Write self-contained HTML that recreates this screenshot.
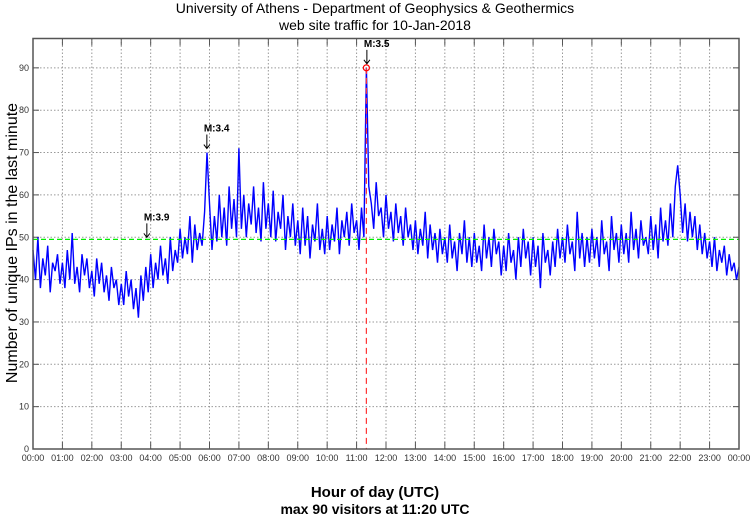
<!DOCTYPE html>
<html><head><meta charset="utf-8"><style>
html,body{margin:0;padding:0;background:#fff;}
svg{display:block;font-family:"Liberation Sans",sans-serif;}
</style></head><body>
<svg id="chart" width="750" height="515" viewBox="0 0 750 515">
<text x="375" y="13" text-anchor="middle" font-size="14">University of Athens - Department of Geophysics &amp; Geothermics</text>
<text x="375" y="30" text-anchor="middle" font-size="14">web site traffic for 10-Jan-2018</text>
<text x="375" y="497" text-anchor="middle" font-size="15" font-weight="bold">Hour of day (UTC)</text>
<text x="375" y="514" text-anchor="middle" font-size="14" font-weight="bold">max 90 visitors at 11:20 UTC</text>
<text transform="translate(17,243) rotate(-90)" text-anchor="middle" font-size="16">Number of unique IPs in the last minute</text>
<g id="grid"></g>
<g id="series"></g>
<g id="ann"></g>
<rect x="33" y="38.5" width="706" height="410.5" fill="none" stroke="#555" stroke-width="1.5"/>
</svg>
<script>
const hours=["00:00","01:00","02:00","03:00","04:00","05:00","06:00","07:00","08:00","09:00","10:00","11:00","12:00","13:00","14:00","15:00","16:00","17:00","18:00","19:00","20:00","21:00","22:00","23:00","00:00"];
const yTicks=[0,10,20,30,40,50,60,70,80,90];
const stepMinutes=5;
const visitors=[
47,40,50,38,45,41,48,37,44,42,46,39,
44,38,47,40,51,39,43,37,46,41,45,38,
42,36,45,39,44,37,41,35,43,38,40,34,
39,34,42,36,40,33,38,31,41,35,43,37,
46,38,44,40,48,41,45,39,50,42,47,44,
52,45,50,46,55,44,53,47,51,48,56,70,
58,47,55,49,60,50,57,48,62,52,59,50,
71,52,60,50,58,53,62,51,57,49,63,52,
58,50,61,49,56,52,60,47,55,50,58,48,
54,46,57,48,55,45,53,49,58,47,52,46,
55,47,53,49,57,46,54,50,56,48,58,51,
54,47,57,50,90,62,58,52,63,55,57,50,
60,52,56,49,58,51,55,48,57,50,53,47,
54,46,52,48,56,45,53,47,51,44,52,46,
50,44,53,45,49,42,51,46,54,44,50,43,
51,44,48,42,53,45,50,43,52,46,49,41,
48,42,51,44,47,40,50,43,52,45,49,41,
50,43,48,38,51,44,47,41,49,43,52,45,
50,44,53,46,49,42,56,45,51,43,50,44,
52,45,50,43,54,46,49,42,55,47,51,44,
53,46,51,44,56,47,52,45,54,48,50,46,
55,47,53,45,57,49,54,48,58,50,62,67,
60,51,58,49,56,50,55,47,53,46,51,45,
49,43,50,42,47,44,48,41,46,42,44,40,43];
const meanLevel=49.5;
const quakeLabels=["M:3.9","M:3.4","M:3.5"];
const quakeHours=[3.87,5.91,11.35];
const maxValue=90;const maxHour=11.333;

const NS="http://www.w3.org/2000/svg";
const X0=33,X1=739,Y0=449,YT=38.5,PXU=4.235;
const xs=h=>X0+(X1-X0)*h/24;
const ys=v=>Y0-v*PXU;
function mk(tag,attrs,parent){const e=document.createElementNS(NS,tag);for(const k in attrs)e.setAttribute(k,attrs[k]);parent.appendChild(e);return e;}
const grid=document.getElementById('grid'),series=document.getElementById('series'),ann=document.getElementById('ann');
yTicks.forEach(v=>{
  const y=ys(v);
  if(v>0){const l=mk('line',{x1:X0,x2:X1,y1:y,y2:y,stroke:'#999','stroke-dasharray':'1.5,2','stroke-width':1},grid);
  
  }
  const t1=mk('line',{x1:X0,x2:X0+6,y1:y,y2:y,stroke:'#555'},grid);
  
  
  const t2=mk('line',{x1:X1-6,x2:X1,y1:y,y2:y,stroke:'#555'},grid);
  
  
  const tx=mk('text',{x:X0-4,y:y+3,'text-anchor':'end','font-size':9,fill:'#333'},grid);tx.textContent=v;
  
  
});
hours.forEach((h,i)=>{
  const x=xs(i);
  if(i>0&&i<24){const l=mk('line',{x1:x,x2:x,y1:YT,y2:Y0,stroke:'#999','stroke-dasharray':'1.5,2','stroke-width':1},grid);
  
  
  const t=mk('line',{x1:x,x2:x,y1:Y0-7,y2:Y0,stroke:'#555'},grid);
  
  
  const t2=mk('line',{x1:x,x2:x,y1:YT,y2:YT+7,stroke:'#555'},grid);
  
  }
  const tx=mk('text',{x:x,y:461,'text-anchor':'middle','font-size':9,fill:'#333'},grid);tx.textContent=h;
  
  
});
const pts=visitors.map((v,i)=>xs(i*stepMinutes/60).toFixed(1)+','+ys(v).toFixed(1)).join(' ');
const pl=mk('polyline',{points:pts,fill:'none',stroke:'#0000ff','stroke-width':1.4},series);


const ml=mk('line',{x1:X0,x2:X1,y1:ys(meanLevel),y2:ys(meanLevel),stroke:'#00ee00','stroke-dasharray':'5,3','stroke-width':1.2},series);


const vl=mk('line',{x1:xs(maxHour),x2:xs(maxHour),y1:ys(maxValue),y2:Y0,stroke:'#ff3333','stroke-dasharray':'6,4','stroke-width':1.2},ann);


const mc=mk('circle',{cx:xs(maxHour),cy:ys(maxValue),r:3,fill:'none',stroke:'#ff0000','stroke-width':1.2},ann);


quakeLabels.forEach((lab,i)=>{
  const x=xs(quakeHours[i]);
  const idx=Math.round(quakeHours[i]*60/stepMinutes);
  let top=ys(Math.max(visitors[idx]||0,visitors[idx-1]||0,visitors[idx+1]||0))-4;
  if(i===0)top=ys(meanLevel)-2;
  const a=mk('path',{d:`M${x},${top-14}V${top} M${x-3},${top-4}L${x},${top}L${x+3},${top-4}`,stroke:'#000',fill:'none','stroke-width':1},ann);
  
  
  const t=mk('text',{x:x-3,y:top-17,'font-size':10,'font-weight':'bold'},ann);t.textContent=lab;
  
  
});
</script>
</body></html>
